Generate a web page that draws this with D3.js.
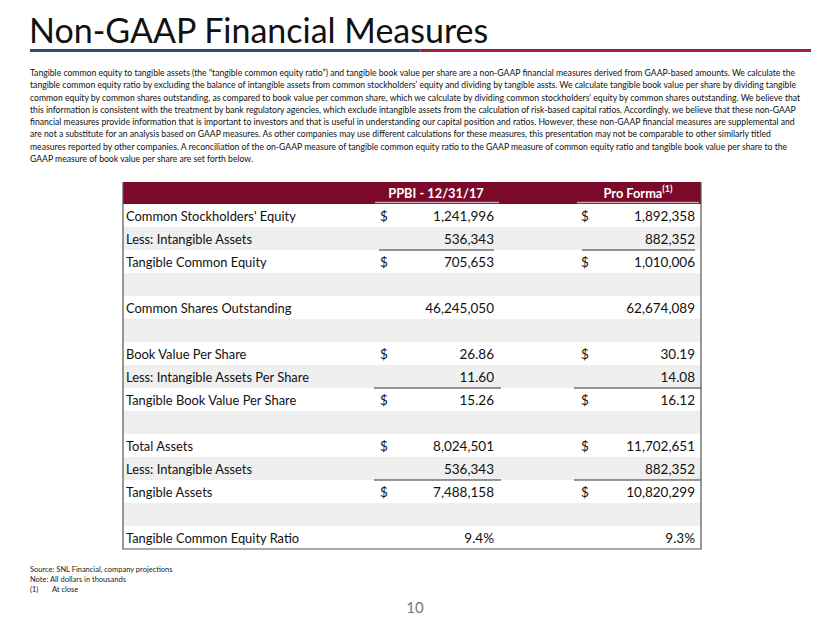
<!DOCTYPE html>
<html>
<head>
<meta charset="utf-8">
<script src="https://cdn.jsdelivr.net/npm/d3@7"></script>
<style>
  html, body { margin: 0; padding: 0; background: #fff; }
  svg { display: block; }
</style>
</head>
<body>
<svg id="chart" width="830" height="623"></svg>
<script>
// ---------------- DATA ----------------
const title = "Non-GAAP Financial Measures";
const introLines = [
  "Tangible common equity to tangible assets (the \u201Ctangible common equity ratio\u201D) and tangible book value per share are a non-GAAP financial measures derived from GAAP-based amounts. We calculate the",
  "tangible common equity ratio by excluding the balance of intangible assets from common stockholders\u2019 equity and dividing by tangible assts. We calculate tangible book value per share by dividing tangible",
  "common equity by common shares outstanding, as compared to book value per common share, which we calculate by dividing common stockholders\u2019 equity by common shares outstanding. We believe that",
  "this information is consistent with the treatment by bank regulatory agencies, which exclude intangible assets from the calculation of risk-based capital ratios. Accordingly, we believe that these non-GAAP",
  "financial measures provide information that is important to investors and that is useful in understanding our capital position and ratios. However, these non-GAAP financial measures are supplemental and",
  "are not a substitute for an analysis based on GAAP measures. As other companies may use different calculations for these measures, this presentation may not be comparable to other similarly titled",
  "measures reported by other companies. A reconciliation of the on-GAAP measure of tangible common equity ratio to the GAAP measure of common equity ratio and tangible book value per share to the",
  "GAAP measure of book value per share are set forth below."
];

const columnHeaders = ["PPBI - 12/31/17", "Pro Forma"];
const rowLabels = [
  "Common Stockholders' Equity",
  "Less: Intangible Assets",
  "Tangible Common Equity",
  "",
  "Common Shares Outstanding",
  "",
  "Book Value Per Share",
  "Less: Intangible Assets Per Share",
  "Tangible Book Value Per Share",
  "",
  "Total Assets",
  "Less: Intangible Assets",
  "Tangible Assets",
  "",
  "Tangible Common Equity Ratio"
];
const ppbiValues = [1241996, 536343, 705653, null, 46245050, null, 26.86, 11.60, 15.26, null, 8024501, 536343, 7488158, null, 0.094];
const proFormaValues = [1892358, 882352, 1010006, null, 62674089, null, 30.19, 14.08, 16.12, null, 11702651, 882352, 10820299, null, 0.093];
const valueKinds = ["int", "int", "int", null, "int", null, "dec", "dec", "dec", null, "int", "int", "int", null, "pct"];
const dollarRows = [0, 2, 6, 8, 10, 12];
const subtotalRows = [1, 7, 11];

const footnotes = ["Source: SNL Financial, company projections", "Note: All dollars in thousands"];
const footnoteMark = ["(1)", "At close"];
const pageNumber = "10";

// ---------------- DRAW ----------------
const svg = d3.select("#chart");
const FONT = "Lato, 'Noto Sans', sans-serif";

// Title
svg.append("text")
  .attr("x", 29).attr("y", 43)
  .attr("font-family", FONT).attr("font-weight", 400)
  .attr("font-size", 34).attr("fill", "#111")
  .text(title);

// Rule
const ruleX = d3.scaleLinear().domain([0, 1]).range([30, 811]);
svg.append("rect").attr("x", ruleX(0)).attr("y", 49).attr("width", ruleX(0.5) - ruleX(0)).attr("height", 3).attr("fill", "#2f4b7c");
svg.append("rect").attr("x", ruleX(0.5)).attr("y", 49).attr("width", ruleX(1) - ruleX(0.5)).attr("height", 3).attr("fill", "#a31d3c");

// Intro paragraph — font size fitted so a full line spans the reference width
const introY = d3.scaleLinear().domain([0, introLines.length - 1]).range([76, 162]);
const intro = svg.append("g").selectAll("text").data(introLines).join("text")
  .attr("x", 30).attr("y", (d, i) => introY(i))
  .attr("font-family", FONT).attr("font-size", 10).attr("fill", "#111")
  .text(d => d);
const natural = intro.nodes()[2].getComputedTextLength();
const fitted = Math.min(10.2, 10 * 772 / natural);
intro.attr("font-size", fitted);

// Table
const tLeft = 123, tRight = 701, tTop = 182, headerH = 22;
const y = d3.scaleBand().domain(d3.range(rowLabels.length)).range([tTop + headerH, 549]).paddingInner(0);
const colX = {
  label: 126,
  ppbiDollar: 380, ppbiRight: 494, ppbiCenter: 436,
  pfDollar: 581, pfRight: 695, pfCenter: 638
};
const fmt = {
  int: d3.format(","),
  dec: d3.format(".2f"),
  pct: d3.format(".1%")
};

const table = svg.append("g");

// header background
table.append("rect").attr("x", tLeft).attr("y", tTop).attr("width", tRight - tLeft).attr("height", headerH).attr("fill", "#7b0a2a");

// row backgrounds
table.selectAll("rect.row").data(rowLabels).join("rect").attr("class", "row")
  .attr("x", tLeft).attr("y", (d, i) => y(i)).attr("width", tRight - tLeft).attr("height", y.bandwidth())
  .attr("fill", (d, i) => i % 2 === 0 ? "#ffffff" : "#efefef");

// header texts
const hdr = table.append("g").attr("font-family", FONT).attr("font-weight", 700).attr("font-size", 12.8).attr("fill", "#fff");
hdr.append("text").attr("x", colX.ppbiCenter).attr("y", tTop + 16).attr("text-anchor", "middle").text(columnHeaders[0]);
const pf = hdr.append("text").attr("x", colX.pfCenter).attr("y", tTop + 16).attr("text-anchor", "middle");
pf.append("tspan").text(columnHeaders[1]);
pf.append("tspan").attr("font-size", 9).attr("dy", -6).text("(1)");

// header underlines
table.append("line").attr("x1", 375).attr("x2", 499).attr("y1", tTop + headerH - 1.5).attr("y2", tTop + headerH - 1.5).attr("stroke", "#c9a3ad").attr("stroke-width", 1.5);
table.append("line").attr("x1", 577).attr("x2", 699).attr("y1", tTop + headerH - 1.5).attr("y2", tTop + headerH - 1.5).attr("stroke", "#c9a3ad").attr("stroke-width", 1.5);

// body texts
const body = table.append("g").attr("font-family", FONT).attr("font-size", 13.5).attr("fill", "#111");
const baseline = i => y(i) + y.bandwidth() / 2 + 5;

body.selectAll("text.label").data(rowLabels).join("text").attr("class", "label")
  .attr("x", colX.label).attr("y", (d, i) => baseline(i)).attr("font-size", 12.9).text(d => d);

body.selectAll("text.ppbi").data(ppbiValues).join("text").attr("class", "ppbi")
  .attr("x", colX.ppbiRight).attr("y", (d, i) => baseline(i)).attr("text-anchor", "end")
  .text((d, i) => d == null ? "" : fmt[valueKinds[i]](d));

body.selectAll("text.pf").data(proFormaValues).join("text").attr("class", "pf")
  .attr("x", colX.pfRight).attr("y", (d, i) => baseline(i)).attr("text-anchor", "end")
  .text((d, i) => d == null ? "" : fmt[valueKinds[i]](d));

body.selectAll("text.d1").data(dollarRows).join("text").attr("class", "d1")
  .attr("x", colX.ppbiDollar).attr("y", d => baseline(d)).text("$");
body.selectAll("text.d2").data(dollarRows).join("text").attr("class", "d2")
  .attr("x", colX.pfDollar).attr("y", d => baseline(d)).text("$");

// subtotal lines
const subG = table.append("g").attr("stroke", "#333").attr("stroke-width", 1.2);
subG.selectAll("line.s1").data(subtotalRows).join("line").attr("class", "s1")
  .attr("x1", (d, i) => i === 0 ? 379 : 374).attr("x2", (d, i) => i === 0 ? 494 : 501)
  .attr("y1", d => y(d) + y.bandwidth()).attr("y2", d => y(d) + y.bandwidth());
subG.selectAll("line.s2").data(subtotalRows).join("line").attr("class", "s2")
  .attr("x1", (d, i) => i === 0 ? 582 : 574).attr("x2", (d, i) => i === 0 ? 695 : 701)
  .attr("y1", d => y(d) + y.bandwidth()).attr("y2", d => y(d) + y.bandwidth());

// table border
table.append("path")
  .attr("d", `M${tLeft},${tTop} V549 H${tRight} V${tTop}`)
  .attr("fill", "none").attr("stroke", "#555").attr("stroke-width", 1.2);

// Footnotes
const foot = svg.append("g").attr("font-family", FONT).attr("font-size", 7.5).attr("fill", "#222");
foot.selectAll("text.fn").data(footnotes).join("text").attr("class", "fn")
  .attr("x", 30).attr("y", (d, i) => 572 + i * 9.6).text(d => d);
foot.append("text").attr("x", 30).attr("y", 591.5).text(footnoteMark[0]);
foot.append("text").attr("x", 52).attr("y", 591.5).text(footnoteMark[1]);

svg.append("text").attr("x", 415).attr("y", 613).attr("text-anchor", "middle")
  .attr("font-family", FONT).attr("font-size", 15).attr("fill", "#777").text(pageNumber);
</script>
</body>
</html>
